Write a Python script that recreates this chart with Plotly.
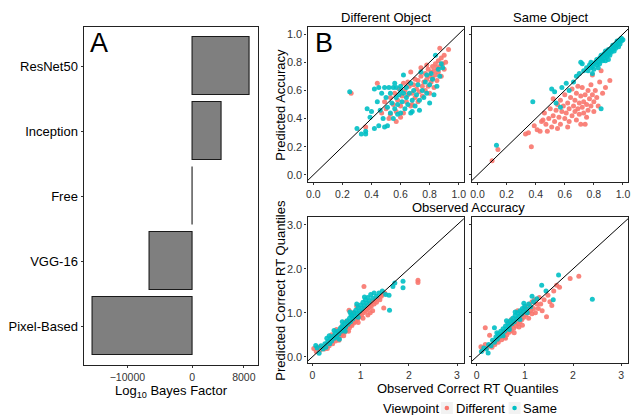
import plotly.graph_objects as go

W, H = 632, 415

# ---------------- Panel A data ----------------
models = ["ResNet50", "Inception", "Free", "VGG-16", "Pixel-Based"]
log10_bf = [8900, 4600, 30, -6600, -15400]
bf_ticks = [-10000, 0, 8000]
bf_ticklabels = ["\u221210000", "0", "8000"]

# ---------------- Panel B data ----------------
# Different Object, accuracy
acc_diff_red = [(0.26,0.58),(0.36,0.34),(0.44,0.65),(0.47,0.44),(0.49,0.52),(0.50,0.47),(0.52,0.40),(0.53,0.55),(0.55,0.50),(0.56,0.58),(0.57,0.45),(0.58,0.53),(0.59,0.61),(0.60,0.49),(0.61,0.56),(0.62,0.44),(0.63,0.60),(0.64,0.52),(0.65,0.57),(0.66,0.63),(0.67,0.73),(0.67,0.49),(0.68,0.58),(0.69,0.64),(0.70,0.55),(0.71,0.61),(0.72,0.67),(0.72,0.52),(0.73,0.59),(0.74,0.70),(0.75,0.63),(0.75,0.56),(0.76,0.66),(0.77,0.72),(0.77,0.60),(0.78,0.68),(0.79,0.63),(0.79,0.75),(0.80,0.70),(0.80,0.58),(0.81,0.73),(0.81,0.66),(0.82,0.77),(0.82,0.69),(0.83,0.74),(0.83,0.62),(0.84,0.79),(0.84,0.71),(0.85,0.76),(0.85,0.67),(0.86,0.81),(0.86,0.73),(0.87,0.90),(0.87,0.77),(0.88,0.70),(0.88,0.83),(0.89,0.79),(0.90,0.75),(0.91,0.80),(0.93,0.89),(0.90,0.85),(0.78,0.78),(0.70,0.68),(0.62,0.65),(0.57,0.38),(0.53,0.43),(0.60,0.41),(0.65,0.66),(0.74,0.76),(0.68,0.50)]
acc_diff_teal = [(0.25,0.59),(0.30,0.33),(0.33,0.29),(0.36,0.29),(0.36,0.31),(0.37,0.47),(0.40,0.45),(0.42,0.33),(0.42,0.61),(0.45,0.62),(0.45,0.35),(0.47,0.58),(0.48,0.40),(0.49,0.34),(0.49,0.62),(0.50,0.55),(0.51,0.35),(0.51,0.48),(0.52,0.62),(0.53,0.44),(0.53,0.58),(0.54,0.51),(0.55,0.40),(0.55,0.62),(0.56,0.47),(0.57,0.55),(0.57,0.62),(0.58,0.43),(0.58,0.50),(0.59,0.57),(0.60,0.44),(0.60,0.63),(0.61,0.52),(0.62,0.71),(0.62,0.58),(0.63,0.47),(0.64,0.55),(0.64,0.62),(0.65,0.50),(0.66,0.58),(0.67,0.44),(0.67,0.65),(0.68,0.45),(0.68,0.53),(0.69,0.60),(0.70,0.49),(0.71,0.57),(0.72,0.64),(0.73,0.46),(0.73,0.53),(0.74,0.73),(0.75,0.60),(0.76,0.55),(0.77,0.66),(0.78,0.71),(0.78,0.58),(0.80,0.51),(0.80,0.64),(0.81,0.72),(0.82,0.68),(0.83,0.57),(0.84,0.85),(0.85,0.63),(0.86,0.75),(0.87,0.70),(0.88,0.79),(0.89,0.76),(0.60,0.60),(0.46,0.46),(0.44,0.52),(0.39,0.41),(0.56,0.65)]
# Same Object, accuracy
acc_same_red = [(0.10,0.10),(0.14,0.18),(0.37,0.20),(0.33,0.29),(0.35,0.30),(0.39,0.35),(0.41,0.32),(0.43,0.31),(0.44,0.38),(0.46,0.44),(0.47,0.36),(0.48,0.31),(0.49,0.40),(0.50,0.47),(0.51,0.34),(0.52,0.54),(0.52,0.42),(0.53,0.38),(0.54,0.46),(0.55,0.50),(0.56,0.41),(0.57,0.36),(0.57,0.53),(0.58,0.45),(0.59,0.49),(0.60,0.40),(0.60,0.57),(0.61,0.44),(0.62,0.51),(0.63,0.38),(0.63,0.47),(0.64,0.55),(0.65,0.42),(0.65,0.61),(0.66,0.49),(0.67,0.45),(0.67,0.53),(0.68,0.39),(0.68,0.58),(0.69,0.47),(0.70,0.51),(0.70,0.43),(0.71,0.36),(0.71,0.56),(0.72,0.48),(0.72,0.62),(0.73,0.52),(0.73,0.44),(0.74,0.57),(0.75,0.41),(0.75,0.50),(0.76,0.60),(0.76,0.46),(0.77,0.54),(0.78,0.49),(0.78,0.64),(0.79,0.71),(0.79,0.57),(0.80,0.45),(0.80,0.52),(0.81,0.60),(0.82,0.55),(0.83,0.49),(0.84,0.66),(0.85,0.74),(0.86,0.58),(0.88,0.62),(0.91,0.67),(0.69,0.63),(0.62,0.34),(0.55,0.33),(0.45,0.39),(0.74,0.36)]
acc_same_teal = [(0.13,0.21),(0.38,0.52),(0.51,0.61),(0.53,0.59),(0.54,0.51),(0.57,0.48),(0.58,0.62),(0.61,0.65),(0.63,0.60),(0.66,0.66),(0.68,0.70),(0.71,0.80),(0.72,0.79),(0.85,0.47),(0.70,0.72),(0.73,0.74),(0.75,0.76),(0.76,0.74),(0.77,0.78),(0.78,0.76),(0.78,0.80),(0.79,0.77),(0.80,0.79),(0.80,0.75),(0.81,0.80),(0.82,0.78),(0.82,0.82),(0.83,0.80),(0.84,0.83),(0.84,0.79),(0.85,0.82),(0.85,0.85),(0.86,0.81),(0.86,0.84),(0.87,0.86),(0.87,0.83),(0.88,0.85),(0.88,0.88),(0.89,0.84),(0.89,0.87),(0.90,0.86),(0.90,0.89),(0.91,0.88),(0.91,0.85),(0.92,0.90),(0.92,0.87),(0.93,0.89),(0.93,0.92),(0.94,0.91),(0.94,0.88),(0.95,0.93),(0.95,0.90),(0.96,0.92),(0.96,0.95),(0.97,0.94),(0.97,0.91),(0.98,0.96),(0.98,0.93),(0.99,0.95),(0.99,0.97),(1.00,0.96),(0.90,0.82),(0.88,0.81),(0.83,0.76),(0.79,0.72)]
# Different Object, RT quantiles
rt_diff_red = [(0.03,0.19),(0.08,0.12),(0.12,0.22),(0.16,0.15),(0.20,0.20),(0.25,0.18),(0.31,0.19),(0.30,0.28),(0.35,0.25),(0.38,0.33),(0.42,0.30),(0.45,0.40),(0.48,0.36),(0.50,0.45),(0.53,0.42),(0.55,0.50),(0.58,0.47),(0.60,0.55),(0.62,0.52),(0.65,0.60),(0.67,0.56),(0.70,0.64),(0.72,0.61),(0.74,0.70),(0.76,1.06),(0.77,0.66),(0.80,0.74),(0.82,0.71),(0.84,0.80),(0.86,0.77),(0.88,0.85),(0.90,0.81),(0.92,0.90),(0.94,0.86),(0.96,0.95),(0.98,0.91),(1.00,1.00),(1.02,0.95),(1.04,1.05),(1.06,1.00),(1.07,1.60),(1.08,1.10),(1.10,1.04),(1.12,1.13),(1.14,1.08),(1.16,1.18),(1.18,1.12),(1.20,1.22),(1.22,1.15),(1.25,1.25),(1.28,1.20),(1.30,1.30),(1.33,1.24),(1.36,1.34),(1.40,1.30),(1.43,1.38),(1.48,1.11),(1.45,1.42),(1.50,1.45),(2.19,1.74),(2.19,1.69),(0.92,1.15),(0.85,1.00),(0.70,0.80),(0.60,0.68),(1.15,0.95),(1.25,1.05),(0.65,0.48),(0.55,0.38),(0.75,0.58),(0.95,0.78),(1.05,0.88),(1.20,1.00),(0.40,0.50),(0.50,0.62)]
rt_diff_teal = [(0.07,0.26),(0.10,0.20),(0.14,0.08),(0.18,0.25),(0.22,0.18),(0.26,0.30),(0.28,0.22),(0.32,0.35),(0.36,0.30),(0.38,0.42),(0.40,0.36),(0.44,0.48),(0.46,0.42),(0.48,0.54),(0.50,0.46),(0.53,0.58),(0.55,0.52),(0.58,0.65),(0.60,0.58),(0.62,0.70),(0.64,0.63),(0.67,0.76),(0.69,0.68),(0.72,0.82),(0.74,0.74),(0.77,0.88),(0.79,0.80),(0.82,0.94),(0.84,0.86),(0.86,1.00),(0.88,0.92),(0.90,1.06),(0.93,0.98),(0.95,1.12),(0.98,1.04),(1.00,1.18),(1.03,1.10),(1.05,1.24),(1.08,1.16),(1.10,1.30),(1.13,1.22),(1.15,1.35),(1.18,1.27),(1.21,1.42),(1.25,1.33),(1.28,1.45),(1.33,1.38),(1.38,1.45),(1.45,1.50),(1.52,1.42),(1.59,1.40),(1.60,1.06),(1.67,1.60),(1.71,1.68),(1.88,1.72),(1.88,1.57),(0.56,0.40),(0.68,0.58),(0.80,0.96),(0.95,0.90),(0.30,0.42),(0.45,0.60),(0.62,0.80),(0.78,1.02),(0.92,1.20),(1.08,1.36),(0.35,0.48)]
# Same Object, RT quantiles
rt_same_red = [(0.09,0.23),(0.12,0.15),(0.18,0.66),(0.18,0.28),(0.22,0.20),(0.27,0.49),(0.28,0.25),(0.32,0.22),(0.35,0.32),(0.38,0.28),(0.42,0.38),(0.45,0.33),(0.48,0.44),(0.52,0.39),(0.55,0.50),(0.58,0.45),(0.60,0.56),(0.63,0.50),(0.66,0.62),(0.68,0.56),(0.70,0.68),(0.72,0.60),(0.75,0.74),(0.77,0.65),(0.80,0.80),(0.82,0.70),(0.84,0.86),(0.86,0.75),(0.88,0.92),(0.90,0.80),(0.92,0.98),(0.94,0.85),(0.96,1.04),(0.98,0.90),(1.00,1.10),(1.02,0.95),(1.05,1.15),(1.07,1.00),(1.10,1.20),(1.12,1.05),(1.15,1.25),(1.18,1.10),(1.20,1.30),(1.22,1.00),(1.25,1.20),(1.28,1.10),(1.30,1.35),(1.33,1.20),(1.36,1.05),(1.40,1.30),(1.45,0.91),(1.48,1.40),(1.52,1.25),(1.56,1.17),(1.60,1.50),(1.66,1.63),(1.72,1.58),(1.94,1.78),(2.12,1.83),(0.65,0.78),(0.85,1.05),(0.78,0.55),(1.08,0.88),(0.95,0.72),(0.60,0.42),(0.88,0.68),(1.15,0.98),(0.72,0.85)]
rt_same_teal = [(0.10,0.12),(0.15,0.20),(0.20,0.18),(0.24,0.09),(0.25,0.28),(0.30,0.25),(0.33,0.38),(0.37,0.66),(0.37,0.33),(0.40,0.45),(0.43,0.40),(0.45,0.52),(0.48,0.47),(0.50,0.58),(0.53,0.52),(0.55,0.64),(0.58,0.58),(0.60,0.70),(0.63,0.64),(0.65,0.76),(0.68,0.70),(0.70,0.82),(0.73,0.75),(0.75,0.88),(0.78,0.80),(0.80,0.94),(0.83,0.86),(0.85,1.00),(0.88,0.92),(0.90,1.05),(0.93,0.97),(0.95,1.10),(0.98,1.02),(1.00,1.15),(1.04,1.08),(1.08,1.20),(1.12,1.14),(1.18,1.25),(1.25,1.32),(1.35,1.63),(1.44,1.50),(1.59,1.30),(1.70,1.86),(2.40,1.31),(0.55,0.48),(0.68,0.62),(0.90,0.85),(1.05,1.00),(0.42,0.55),(0.62,0.82),(0.80,1.02),(0.98,1.22),(1.15,1.38)]

acc_ticks = [0.0, 0.2, 0.4, 0.6, 0.8, 1.0]
acc_ticklabels = ["0.0", "0.2", "0.4", "0.6", "0.8", "1.0"]
rt_xticks = [0, 1, 2, 3]
rt_yticks = [0.0, 1.0, 2.0, 3.0]
rt_yticklabels = ["0.0", "1.0", "2.0", "3.0"]
legend_levels = ["Different", "Same"]

RED = "#F8766D"
TEAL = "#00BFC4"
FONT = "Liberation Sans, Arial, sans-serif"

def px_x(p):
    return p / W

def px_y(p):
    return 1 - p / H

fig = go.Figure()

# ---- Panel A bars ----
fig.add_trace(go.Bar(
    x=log10_bf, y=models, orientation="h", width=0.9,
    marker=dict(color="#7F7F7F", line=dict(color="#1a1a1a", width=1.1)),
    xaxis="x", yaxis="y", showlegend=False, hoverinfo="x+y"))

# ---- Panel B scatter ----
panels = [
    ("x2", "y2", acc_diff_red, acc_diff_teal),
    ("x3", "y3", acc_same_red, acc_same_teal),
    ("x4", "y4", rt_diff_red, rt_diff_teal),
    ("x5", "y5", rt_same_red, rt_same_teal),
]
for xa, ya, red, teal in panels:
    for pts, col, name in ((red, RED, "Different"), (teal, TEAL, "Same")):
        fig.add_trace(go.Scatter(
            x=[p[0] for p in pts], y=[p[1] for p in pts], mode="markers",
            marker=dict(color=col, size=5, opacity=0.9, line=dict(width=0)),
            name=name, showlegend=False, xaxis=xa, yaxis=ya))
    fig.add_trace(go.Scatter(
        x=[-1, 4], y=[-1, 4], mode="lines",
        line=dict(color="black", width=1), showlegend=False,
        hoverinfo="skip", xaxis=xa, yaxis=ya))

axis_common = dict(showline=True, mirror=True, linecolor="#222222", linewidth=1.2,
                   showgrid=False, zeroline=False, ticks="outside", ticklen=2,
                   tickcolor="#333333", tickwidth=1,
                   tickfont=dict(family=FONT, size=11, color="#333333"))
axis_xsmall = {**axis_common, "tickfont": dict(family=FONT, size=10.5, color="#333333")}

ax_top_y = [px_y(182), px_y(27)]
ax_bot_y = [px_y(363), px_y(217)]
ax_left_x = [px_x(308), px_x(465)]
ax_right_x = [px_x(473), px_x(630)]

fig.update_layout(
    width=W, height=H, margin=dict(l=0, r=0, t=0, b=0),
    paper_bgcolor="white", plot_bgcolor="white",
    font=dict(family=FONT, color="black"),
    bargap=0, showlegend=False,
    xaxis=dict(domain=[px_x(83), px_x(258)], anchor="y", range=[-16770, 10150],
               tickvals=bf_ticks, ticktext=bf_ticklabels, **axis_xsmall),
    yaxis=dict(domain=[px_y(365), px_y(27)], anchor="x", type="category",
               categoryorder="array", categoryarray=models, range=[4.6, -0.6],
               **{**axis_common, "tickfont": dict(family=FONT, size=13, color="black")}),
    xaxis2=dict(domain=ax_left_x, anchor="y2", range=[-0.04, 1.035],
                tickvals=acc_ticks, ticktext=acc_ticklabels, **axis_xsmall),
    yaxis2=dict(domain=ax_top_y, anchor="x2", range=[-0.05, 1.05],
                tickvals=acc_ticks, ticktext=acc_ticklabels, **axis_common),
    xaxis3=dict(domain=ax_right_x, anchor="y3", range=[-0.04, 1.035],
                tickvals=acc_ticks, ticktext=acc_ticklabels, **axis_xsmall),
    yaxis3=dict(domain=ax_top_y, anchor="x3", range=[-0.05, 1.05],
                tickvals=acc_ticks, showticklabels=False, **axis_common),
    xaxis4=dict(domain=ax_left_x, anchor="y4", range=[-0.1, 3.14],
                tickvals=rt_xticks, **axis_xsmall),
    yaxis4=dict(domain=ax_bot_y, anchor="x4", range=[-0.14, 3.18],
                tickvals=rt_yticks, ticktext=rt_yticklabels, **axis_common),
    xaxis5=dict(domain=ax_right_x, anchor="y5", range=[-0.1, 3.14],
                tickvals=rt_xticks, **axis_xsmall),
    yaxis5=dict(domain=ax_bot_y, anchor="x5", range=[-0.14, 3.18],
                tickvals=rt_yticks, showticklabels=False, **axis_common),
)

def ann(text, x, y, size=13, angle=0, xanchor="center", yanchor="middle"):
    fig.add_annotation(text=text, x=px_x(x), y=px_y(y), xref="paper", yref="paper",
                       showarrow=False, textangle=angle, xanchor=xanchor, yanchor=yanchor,
                       borderpad=0, font=dict(family=FONT, size=size, color="black"))

ann("A", 88, 43, size=27, xanchor="left")
ann("B", 314, 43, size=27, xanchor="left")
ann("Different Object", 387, 17)
ann("Same Object", 553, 17)
ann("Predicted Accuracy", 280, 105, angle=-90)
ann("Observed Accuracy", 470, 207)
ann("Predicted Correct RT Quantiles", 280, 290, angle=-90)
ann("Observed Correct RT Quantiles", 469, 388)
ann("Log<sub>10</sub> Bayes Factor", 171, 391)

# ---- manual ggplot-style legend ----
ann("Viewpoint", 383, 408, xanchor="left")
for label, col, kx, tx in ((legend_levels[0], RED, 448, 456), (legend_levels[1], TEAL, 516, 523)):
    fig.add_shape(type="rect", xref="paper", yref="paper",
                  x0=px_x(kx - 6), x1=px_x(kx + 6), y0=px_y(414), y1=px_y(402),
                  fillcolor="#F2F2F2", line=dict(width=0))
    fig.add_shape(type="circle", xref="paper", yref="paper",
                  x0=px_x(kx - 2.3), x1=px_x(kx + 2.3), y0=px_y(410.3), y1=px_y(405.7),
                  fillcolor=col, line=dict(width=0))
    ann(label, tx, 408, xanchor="left")

fig.write_html("out.html", config={"displayModeBar": False},
               post_script="document.body.style.margin='0';document.body.style.padding='0';")
